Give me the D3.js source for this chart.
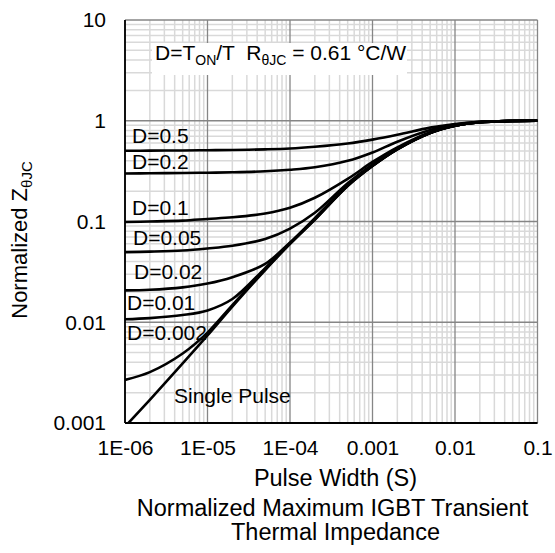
<!DOCTYPE html>
<html>
<head>
<meta charset="utf-8">
<script src="https://cdn.jsdelivr.net/npm/d3@7"></script>
<style>
  html, body { margin: 0; padding: 0; background: #fff; overflow: hidden; }
  svg { display: block; font-family: "Liberation Sans", Arial, sans-serif; }
</style>
</head>
<body>
<svg width="555" height="553"></svg>
<script>
const xTicks = [1e-6, 1e-5, 1e-4, 1e-3, 1e-2, 1e-1];
const xTickLabels = ['1E-06', '1E-05', '1E-04', '0.001', '0.01', '0.1'];
const yTicks = [0.001, 0.01, 0.1, 1, 10];
const yTickLabels = ['0.001', '0.01', '0.1', '1', '10'];

// pulse width (s) sample points
const pulseWidth = [1e-6, 2e-6, 5e-6, 1e-5, 2e-5, 5e-5, 1e-4, 2e-4, 5e-4, 1e-3, 2e-3, 5e-3, 1e-2, 2e-2, 5e-2, 1e-1];

const d05 = [0.503, 0.505, 0.507, 0.51, 0.513, 0.52, 0.53, 0.552, 0.595, 0.65, 0.725, 0.855, 0.93, 0.975, 0.997, 1.0];
const d02 = [0.30, 0.301, 0.303, 0.305, 0.308, 0.315, 0.326, 0.345, 0.40, 0.485, 0.62, 0.81, 0.915, 0.975, 0.997, 1.0];
const d01 = [0.099, 0.100, 0.102, 0.106, 0.110, 0.120, 0.137, 0.172, 0.265, 0.39, 0.545, 0.77, 0.90, 0.97, 0.996, 1.0];
const d005 = [0.0497, 0.0502, 0.0515, 0.054, 0.0575, 0.067, 0.085, 0.122, 0.24, 0.37, 0.53, 0.76, 0.895, 0.967, 0.995, 1.0];
const d002 = [0.0207, 0.0210, 0.0222, 0.0242, 0.0280, 0.038, 0.062, 0.108, 0.23, 0.36, 0.525, 0.758, 0.892, 0.966, 0.995, 1.0];
const d001 = [0.0107, 0.0110, 0.0118, 0.0131, 0.0170, 0.0345, 0.0605, 0.106, 0.227, 0.357, 0.522, 0.756, 0.89, 0.965, 0.995, 1.0];
const d0002 = [0.00268, 0.0032, 0.0049, 0.0079, 0.0148, 0.0335, 0.0602, 0.105, 0.226, 0.356, 0.52, 0.755, 0.89, 0.965, 0.995, 1.0];
const single = [0.00092, 0.0017, 0.0039, 0.0074, 0.0143, 0.033, 0.060, 0.104, 0.225, 0.355, 0.52, 0.755, 0.89, 0.965, 0.995, 1.0];

const seriesList = [d05, d02, d01, d005, d002, d001, d0002, single];

const svg = d3.select('svg');
const width = +svg.attr('width');
const height = +svg.attr('height');

const margin = { top: 20, right: 17.5, bottom: 130, left: 125 };
const innerWidth = width - margin.left - margin.right;
const innerHeight = height - margin.top - margin.bottom;

const xScale = d3.scaleLog().domain([1e-6, 1e-1]).range([0, innerWidth]);
const yScale = d3.scaleLog().domain([0.001, 10]).range([innerHeight, 0]);

const g = svg.append('g')
    .attr('transform', `translate(${margin.left}, ${margin.top})`);

svg.append('defs').append('clipPath')
    .attr('id', 'plot-clip')
    .append('rect')
    .attr('width', innerWidth)
    .attr('height', innerHeight);

// minor grid
const isMajor = (v) => Math.abs(Math.log10(v) - Math.round(Math.log10(v))) < 1e-6;
g.append('g')
    .selectAll('line')
    .data(xScale.ticks().filter((v) => !isMajor(v)))
    .enter().append('line')
    .attr('x1', (d) => xScale(d)).attr('x2', (d) => xScale(d))
    .attr('y1', 0).attr('y2', innerHeight)
    .attr('stroke', '#d9d9d9').attr('stroke-width', 1.5);
g.append('g')
    .selectAll('line')
    .data(yScale.ticks().filter((v) => !isMajor(v)))
    .enter().append('line')
    .attr('y1', (d) => yScale(d)).attr('y2', (d) => yScale(d))
    .attr('x1', 0).attr('x2', innerWidth)
    .attr('stroke', '#d9d9d9').attr('stroke-width', 1.5);

// major grid
g.append('g')
    .selectAll('line')
    .data(xTicks)
    .enter().append('line')
    .attr('x1', (d) => xScale(d)).attr('x2', (d) => xScale(d))
    .attr('y1', 0).attr('y2', innerHeight)
    .attr('stroke', '#868686').attr('stroke-width', 1.3);
g.append('g')
    .selectAll('line')
    .data(yTicks)
    .enter().append('line')
    .attr('y1', (d) => yScale(d)).attr('y2', (d) => yScale(d))
    .attr('x1', 0).attr('x2', innerWidth)
    .attr('stroke', '#868686').attr('stroke-width', 1.3);

// axes (labels only)
const xAxisG = g.append('g')
    .attr('transform', `translate(0, ${innerHeight})`)
    .call(d3.axisBottom(xScale)
        .tickValues(xTicks)
        .tickSize(0)
        .tickFormat((d, i) => xTickLabels[i]));
xAxisG.select('.domain').remove();
xAxisG.selectAll('text')
    .attr('y', 32).attr('dy', 0)
    .attr('font-size', 21).attr('fill', '#000')
    .attr('font-family', '"Liberation Sans", Arial, sans-serif');

const yAxisG = g.append('g')
    .call(d3.axisLeft(yScale)
        .tickValues(yTicks)
        .tickSize(0)
        .tickFormat((d, i) => yTickLabels[i]));
yAxisG.select('.domain').remove();
yAxisG.selectAll('text')
    .attr('x', -19).attr('dy', '0.33em')
    .attr('font-size', 21).attr('fill', '#000')
    .attr('font-family', '"Liberation Sans", Arial, sans-serif');

// axis lines
g.append('line')
    .attr('x1', 0).attr('x2', 0).attr('y1', 0).attr('y2', innerHeight)
    .attr('stroke', '#000').attr('stroke-width', 1.8);
g.append('line')
    .attr('x1', 0).attr('x2', innerWidth).attr('y1', innerHeight).attr('y2', innerHeight)
    .attr('stroke', '#000').attr('stroke-width', 1.8);

// curves
const line = d3.line()
    .x((d) => xScale(d[0]))
    .y((d) => yScale(d[1]))
    .curve(d3.curveCatmullRom.alpha(0.5));

g.append('g')
    .attr('clip-path', 'url(#plot-clip)')
    .selectAll('path')
    .data(seriesList)
    .enter().append('path')
    .attr('d', (s) => line(pulseWidth.map((t, i) => [t, s[i]])))
    .attr('fill', 'none')
    .attr('stroke', '#000')
    .attr('stroke-width', 2.6);

// curve labels
const curveLabels = [
    { text: 'D=0.5', x: 7, y: 123 },
    { text: 'D=0.2', x: 7, y: 149 },
    { text: 'D=0.1', x: 7, y: 195 },
    { text: 'D=0.05', x: 8, y: 225 },
    { text: 'D=0.02', x: 9, y: 259 },
    { text: 'D=0.01', x: 2, y: 290 },
    { text: 'D=0.002', x: 2, y: 320 },
    { text: 'Single Pulse', x: 49, y: 383 }
];
g.append('g')
    .selectAll('text')
    .data(curveLabels)
    .enter().append('text')
    .attr('x', (d) => d.x)
    .attr('y', (d) => d.y)
    .attr('font-size', 21)
    .attr('fill', '#000')
    .text((d) => d.text);

// annotation box
g.append('rect')
    .attr('x', 27).attr('y', 23)
    .attr('width', 255).attr('height', 32)
    .attr('fill', '#fff');
const note = g.append('text')
    .attr('x', 30).attr('y', 40)
    .attr('font-size', 21).attr('fill', '#000')
    .style('white-space', 'pre');
note.append('tspan').text('D=T');
note.append('tspan').attr('font-size', 14).attr('dy', 5).text('ON');
note.append('tspan').attr('dy', -5).text('/T  R');
note.append('tspan').attr('font-size', 14).attr('dy', 5).text('θJC');
note.append('tspan').attr('dy', -5).text(' = 0.61 °C/W');

// axis titles
const cx = width / 2 + 58;
svg.append('text')
    .attr('x', cx).attr('y', 486)
    .attr('text-anchor', 'middle')
    .attr('font-size', 23.5).attr('fill', '#000')
    .text('Pulse Width (S)');
svg.append('text')
    .attr('x', cx - 3).attr('y', 516)
    .attr('text-anchor', 'middle')
    .attr('font-size', 23.5).attr('fill', '#000')
    .text('Normalized Maximum IGBT Transient');
svg.append('text')
    .attr('x', cx).attr('y', 540)
    .attr('text-anchor', 'middle')
    .attr('font-size', 23.5).attr('fill', '#000')
    .text('Thermal Impedance');

const yTitle = svg.append('text')
    .attr('transform', 'translate(27, 240) rotate(-90)')
    .attr('text-anchor', 'middle')
    .attr('font-size', 22).attr('fill', '#000');
yTitle.append('tspan').text('Normalized Z');
yTitle.append('tspan').attr('font-size', 15).attr('dy', 5).text('θJC');
</script>
</body>
</html>
